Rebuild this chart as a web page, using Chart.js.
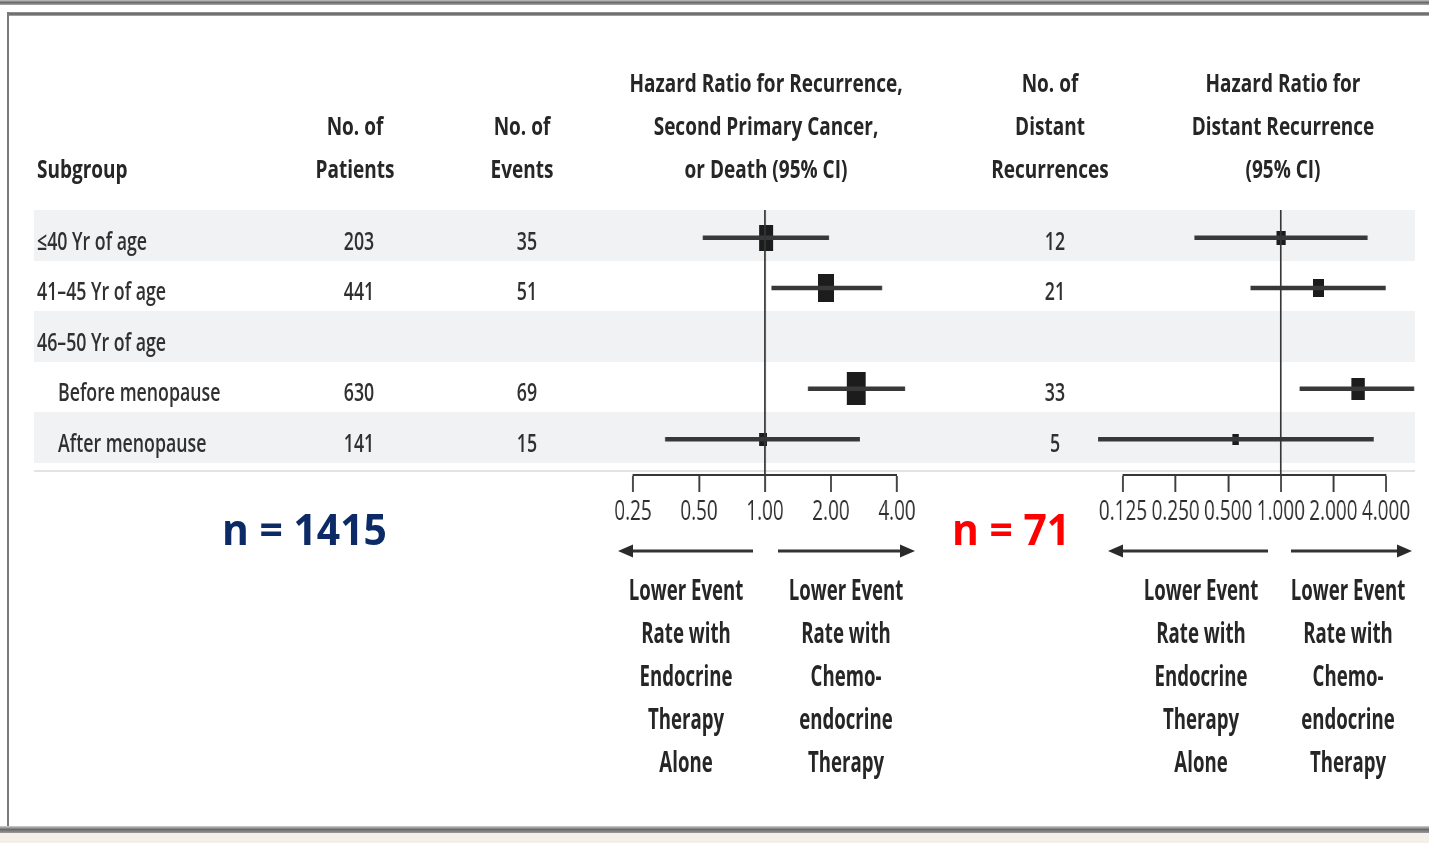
<!DOCTYPE html>
<html>
<head>
<meta charset="utf-8">
<script src="https://cdn.jsdelivr.net/npm/chart.js@4.4.1/dist/chart.umd.min.js"></script>
<style>
  html, body { margin: 0; padding: 0; width: 1429px; height: 843px; overflow: hidden; background: #fff; }
  body { position: relative; font-family: "Open Sans", sans-serif; color: #262626; }
  .t { position: absolute; white-space: nowrap; line-height: 1; }
  .band { position: absolute; left: 34px; width: 1381px; background: #f1f2f4; }
  .wrap { position: absolute; top: 200px; transform-origin: 0 0; }
  .wrap canvas { display: block; }
  .bar { position: absolute; }
</style>
</head>
<body>

<div class="bar" style="left:0;top:0;width:1429px;height:5px;background:linear-gradient(#c4c4c4,#6a6a6a,#a8a8a8)"></div>
<div class="bar" style="left:7px;top:12px;width:1422px;height:4px;background:linear-gradient(#a0a0a0,#5e5e5e,#b4b4b4)"></div>
<div class="bar" style="left:7px;top:12px;width:2px;height:815px;background:#7a7a7a"></div>
<div class="bar" style="left:0;top:826px;width:1429px;height:7px;background:linear-gradient(#d0d0d0,#6a6a6a,#9a9a9a)"></div>
<div class="bar" style="left:0;top:833px;width:1429px;height:10px;background:#f4f0e9"></div>

<div id="bands"></div>
<div class="bar" style="left:34px;top:470px;width:1381px;height:2px;background:#e2e3e5"></div>

<div class="wrap" id="wrapAll"><canvas id="chartAll"></canvas></div>
<div class="wrap" id="wrapDist"><canvas id="chartDist"></canvas></div>

<svg id="arrows" style="position:absolute;left:0;top:0" width="1429" height="843"></svg>

<script>
// subgroup table
const subgroups = ['≤40 Yr of age', '41–45 Yr of age', '46–50 Yr of age', 'Before menopause', 'After menopause'];
const patients = [203, 441, null, 630, 141];
const events = [35, 51, null, 69, 15];
const distantEvents = [12, 21, null, 33, 5];

// HR for recurrence, second primary cancer or death
const hrAll = [1.01, 1.90, null, 2.60, 0.98];
const hrAllLow = [0.52, 1.07, null, 1.57, 0.35];
const hrAllHigh = [1.96, 3.42, null, 4.35, 2.71];

// HR for distant recurrence
const hrDist = [1.00, 1.65, null, 2.76, 0.55];
const hrDistLow = [0.32, 0.67, null, 1.28, 0.09];
const hrDistHigh = [3.14, 3.98, null, 5.80, 3.40];

const ticksAll = [0.25, 0.5, 1, 2, 4];
const ticksDist = [0.125, 0.25, 0.5, 1, 2, 4];

const headAll = ['Hazard Ratio for Recurrence,', 'Second Primary Cancer,', 'or Death (95% CI)'];
const headDist = ['Hazard Ratio for', 'Distant Recurrence', '(95% CI)'];
const favorEndo = ['Lower Event', 'Rate with', 'Endocrine', 'Therapy', 'Alone'];
const favorChemo = ['Lower Event', 'Rate with', 'Chemo-', 'endocrine', 'Therapy'];

/* ---------- layout ---------- */
const ROW_TOP = 210;
const ROW_H = 50.5;
const Y_MIN = -0.55, Y_MAX = 4.71;
const S = 0.7;   // horizontal squeeze of the plot canvases

function text(str, x, y, o) {
  const el = document.createElement('div');
  el.className = 't';
  el.textContent = str;
  el.style.left = x + 'px';
  el.style.top = y + 'px';
  el.style.fontSize = o.size + 'px';
  el.style.fontWeight = o.weight || 400;
  if (o.color) el.style.color = o.color;
  const sx = o.sx || 1;
  if (o.align === 'left') {
    el.style.transformOrigin = '0 50%';
    el.style.transform = `translateY(-50%) scaleX(${sx})`;
  } else {
    el.style.transformOrigin = '50% 50%';
    el.style.transform = `translate(-50%,-50%) scaleX(${sx})`;
  }
  document.body.appendChild(el);
}

// shaded rows
const bands = document.getElementById('bands');
subgroups.forEach((s, i) => {
  if (i % 2) return;
  const b = document.createElement('div');
  b.className = 'band';
  b.style.top = (ROW_TOP + i * ROW_H) + 'px';
  b.style.height = ROW_H + 'px';
  bands.appendChild(b);
});

/* ---------- forest plots ---------- */
function box(w, h) {
  const c = document.createElement('canvas');
  c.width = Math.round(w / S);
  c.height = h;
  const g = c.getContext('2d');
  g.fillStyle = '#1c1c1c';
  g.fillRect(0, 0, c.width, c.height);
  return c;
}

function forest(wrapId, canvasId, o) {
  const pad = 60;
  const wrap = document.getElementById(wrapId);
  const span = (o.axisTo - o.axisFrom) / S;
  const padInt = pad / S;
  const wInt = Math.round(span + 2 * padInt);
  wrap.style.left = (o.axisFrom - pad) + 'px';
  wrap.style.transform = `scaleX(${S})`;
  const cv = document.getElementById(canvasId);
  cv.width = wInt; cv.height = 335;
  cv.style.width = wInt + 'px'; cv.style.height = '335px';

  const rows = o.hr.map((v, i) => i).filter(i => o.hr[i] != null);
  const datasets = [
    { data: [{ x: 1, y: Y_MIN }, { x: 1, y: Y_MAX }], showLine: true, borderColor: '#363636',
      borderWidth: 2.4, pointRadius: 0, clip: false }
  ];
  rows.forEach(i => datasets.push({
    data: [{ x: o.lo[i], y: i }, { x: o.hi[i], y: i }], showLine: true,
    borderColor: '#383838', borderWidth: 4.5, pointRadius: 0, clip: false
  }));
  datasets.push({
    data: rows.map(i => ({ x: o.hr[i], y: i })),
    pointStyle: rows.map(i => box(o.boxes[i][0], o.boxes[i][1])),
    pointRadius: 5, clip: false
  });

  return new Chart(cv.getContext('2d'), {
    type: 'scatter',
    data: { datasets },
    options: {
      responsive: false,
      animation: false,
      events: [],
      layout: { padding: { top: ROW_TOP - 200, bottom: 0, left: padInt, right: wInt - padInt - span } },
      plugins: { legend: { display: false }, tooltip: { enabled: false } },
      scales: {
        y: { type: 'linear', display: false, reverse: true, min: Y_MIN, max: Y_MAX },
        x: {
          type: 'logarithmic',
          min: o.ticks[0],
          max: o.ticks[o.ticks.length - 1],
          afterBuildTicks: s => { s.ticks = o.ticks.map(v => ({ value: v })); },
          afterFit: s => { s.height = 60; },
          border: { display: true, color: '#363636', width: 2 },
          grid: { display: true, drawOnChartArea: false, drawTicks: true, tickLength: 17,
                  tickWidth: 2.6, tickColor: '#363636', color: '#363636' },
          ticks: {
            autoSkip: false, maxRotation: 0, minRotation: 0, padding: 4,
            color: '#2e2e2e', font: { family: 'Open Sans', size: 27 },
            callback: v => Number(v).toFixed(o.digits)
          }
        }
      }
    }
  });
}

forest('wrapAll', 'chartAll', {
  axisFrom: 633, axisTo: 897, ticks: ticksAll, digits: 2,
  hr: hrAll, lo: hrAllLow, hi: hrAllHigh,
  boxes: [[14, 26], [16, 28], null, [19, 33], [8, 13]]
});
forest('wrapDist', 'chartDist', {
  axisFrom: 1123, axisTo: 1386, ticks: ticksDist, digits: 3,
  hr: hrDist, lo: hrDistLow, hi: hrDistHigh,
  boxes: [[9, 14], [11, 18], null, [13, 22], [6, 11]]
});

/* ---------- arrows under the axes ---------- */
const svg = document.getElementById('arrows');
function arrow(from, to, y) {
  const dir = Math.sign(to - from);
  const ns = 'http://www.w3.org/2000/svg';
  const l = document.createElementNS(ns, 'line');
  l.setAttribute('x1', from); l.setAttribute('x2', to - dir * 12);
  l.setAttribute('y1', y); l.setAttribute('y2', y);
  l.setAttribute('stroke', '#333'); l.setAttribute('stroke-width', 3);
  svg.appendChild(l);
  const p = document.createElementNS(ns, 'polygon');
  p.setAttribute('points', `${to},${y} ${to - dir * 15},${y - 6.5} ${to - dir * 15},${y + 6.5}`);
  p.setAttribute('fill', '#2a2a2a');
  svg.appendChild(p);
}
arrow(753, 618, 551);
arrow(778, 915, 551);
arrow(1268, 1108, 551);
arrow(1291, 1412, 551);

/* ---------- text ---------- */
const HEAD = { size: 25, weight: 700, sx: 0.76 };
const ROW = { size: 25, weight: 600, sx: 0.71, color: '#303030' };
const FOOT = { size: 28, weight: 700, sx: 0.665 };
const headY = [82, 125, 168];

text('Subgroup', 37, headY[2], { ...HEAD, align: 'left' });
['No. of', 'Patients'].forEach((s, i) => text(s, 355, headY[i + 1], HEAD));
['No. of', 'Events'].forEach((s, i) => text(s, 522, headY[i + 1], HEAD));
headAll.forEach((s, i) => text(s, 766, headY[i], HEAD));
['No. of', 'Distant', 'Recurrences'].forEach((s, i) => text(s, 1050, headY[i], HEAD));
headDist.forEach((s, i) => text(s, 1283, headY[i], HEAD));

subgroups.forEach((s, i) => {
  const y = 240 + i * 50.4;
  text(s, i >= 3 ? 58 : 37, y, { ...ROW, align: 'left' });
  if (patients[i] != null) text(String(patients[i]), 359, y, ROW);
  if (events[i] != null) text(String(events[i]), 527, y, ROW);
  if (distantEvents[i] != null) text(String(distantEvents[i]), 1055, y, ROW);
});

const footY = [588.5, 631.5, 674.5, 717.5, 760.5];
favorEndo.forEach((s, i) => { text(s, 686, footY[i], FOOT); text(s, 1201, footY[i], FOOT); });
favorChemo.forEach((s, i) => { text(s, 846, footY[i], FOOT); text(s, 1348, footY[i], FOOT); });

text('n = 1415', 222, 528, { size: 43, weight: 700, sx: 0.95, color: '#0b2a66', align: 'left' });
text('n = 71', 952, 528, { size: 43, weight: 700, sx: 0.95, color: '#ff0000', align: 'left' });
</script>
</body>
</html>
